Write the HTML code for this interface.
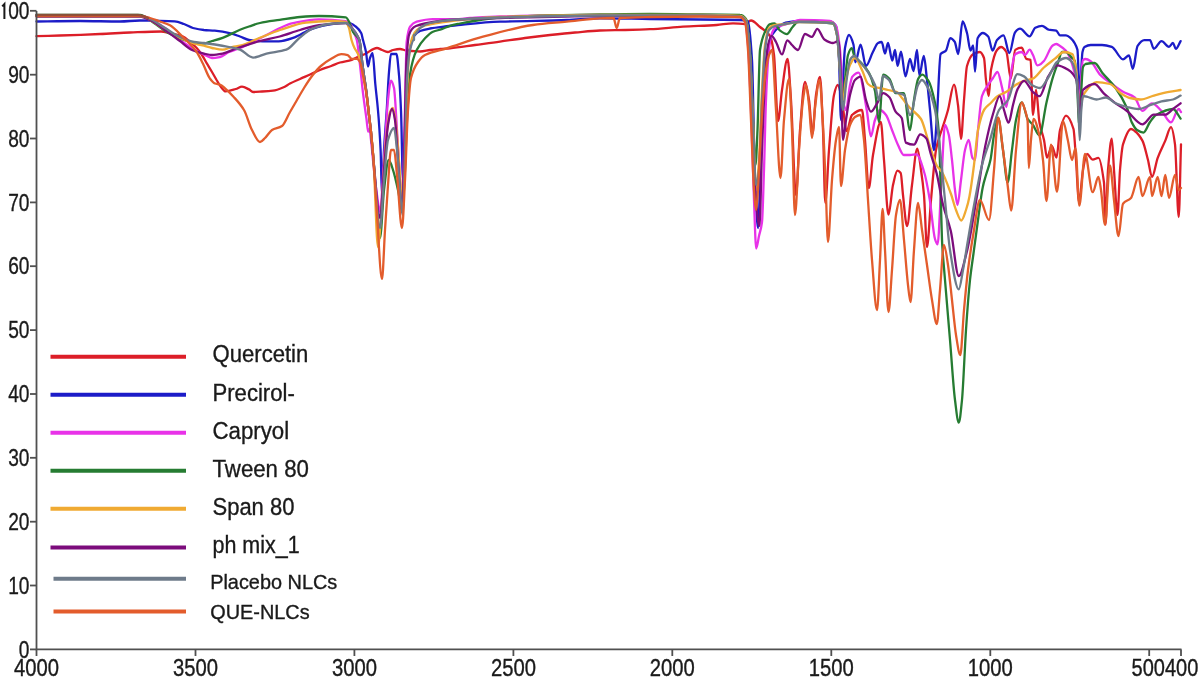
<!DOCTYPE html>
<html><head><meta charset="utf-8"><style>
html,body{margin:0;padding:0;background:#fff;}
svg{display:block;filter:blur(0.35px);}
text{font-family:"Liberation Sans",sans-serif;fill:#1a1a1a;}
</style></head><body>
<svg width="1200" height="680" viewBox="0 0 1200 680">
<path d="M36.5,36.2 C44.3,36.0 52.2,35.8 60.0,35.5 C73.3,35.1 86.7,34.6 100.0,34.0 C110.0,33.6 120.0,32.9 130.0,32.5 C140.3,32.1 150.7,31.5 161.0,31.5 C164.0,31.5 167.0,32.4 170.0,33.0 C174.3,33.9 178.7,34.8 183.0,36.5 C185.3,37.4 187.7,40.1 190.0,42.0 C192.2,43.8 194.3,45.5 196.5,47.8 C198.3,49.7 200.2,52.3 202.0,55.0 C203.7,57.5 205.3,60.9 207.0,63.7 C208.7,66.5 210.3,69.2 212.0,72.0 C213.4,74.4 214.9,77.1 216.3,79.5 C217.9,82.1 219.4,85.1 221.0,87.0 C222.5,88.8 224.1,91.4 225.6,91.4 C229.0,91.4 232.4,90.0 235.8,89.0 C237.9,88.4 239.9,86.7 242.0,86.7 C244.3,86.7 246.7,88.3 249.0,89.4 C250.3,90.0 251.7,92.0 253.0,92.0 C256.0,92.0 259.0,91.7 262.0,91.5 C265.7,91.3 269.3,91.1 273.0,90.7 C276.3,90.3 279.7,88.9 283.0,87.5 C285.3,86.6 287.7,84.8 290.0,83.6 C293.3,81.9 296.7,80.5 300.0,79.0 C303.5,77.4 307.1,75.9 310.6,74.3 C313.7,72.9 316.9,71.3 320.0,70.0 C323.7,68.5 327.5,67.4 331.2,66.0 C334.1,64.9 337.1,63.3 340.0,62.5 C343.9,61.4 347.9,61.1 351.8,59.9 C353.5,59.4 355.3,58.1 357.0,57.3 C359.7,56.1 362.3,55.2 365.0,54.0 C369.0,52.2 373.0,48.0 377.0,48.0 C378.7,48.0 380.3,49.4 382.0,50.0 C383.9,50.7 385.7,52.0 387.6,52.0 C389.4,52.0 391.2,50.4 393.0,50.0 C395.3,49.5 397.7,49.0 400.0,49.0 C402.0,49.0 404.0,50.2 406.0,50.5 C408.0,50.8 410.0,50.9 412.0,51.0 C414.7,51.2 417.3,51.5 420.0,51.5 C423.3,51.5 426.7,50.4 430.0,50.0 C433.3,49.6 436.7,49.3 440.0,49.0 C443.3,48.7 446.7,48.6 450.0,48.3 C458.3,47.5 466.7,46.1 475.0,45.0 C483.3,43.9 491.7,42.9 500.0,41.7 C508.3,40.5 516.7,39.1 525.0,38.0 C533.3,36.9 541.7,35.9 550.0,35.0 C558.3,34.1 566.7,33.2 575.0,32.5 C583.3,31.8 591.7,30.8 600.0,30.5 C608.3,30.2 616.7,30.2 625.0,30.0 C633.3,29.8 641.7,29.6 650.0,29.2 C661.0,28.7 672.0,27.4 683.0,26.7 C694.2,26.0 705.5,25.8 716.7,25.0 C722.1,24.6 727.6,23.3 733.0,23.3 C737.0,23.3 741.0,24.0 745.0,24.0 C747.0,24.0 749.0,20.5 751.0,20.5 C754.0,20.5 757.0,24.6 760.0,27.0 C763.3,29.7 766.7,31.0 770.0,36.0 C771.3,38.0 772.7,45.2 774.0,55.0 C775.3,64.8 776.7,121.0 778.0,121.0 C779.3,121.0 780.7,98.7 782.0,90.0 C783.8,78.0 785.7,59.0 787.5,59.0 C788.7,59.0 789.8,83.1 791.0,100.0 C792.7,124.2 794.3,195.0 796.0,195.0 C797.3,195.0 798.7,146.1 800.0,130.0 C801.7,109.9 803.3,82.0 805.0,82.0 C806.3,82.0 807.7,91.8 809.0,100.0 C810.2,107.2 811.3,134.0 812.5,134.0 C813.7,134.0 814.8,102.5 816.0,95.0 C817.3,86.5 818.7,77.0 820.0,77.0 C821.0,77.0 822.0,107.3 823.0,130.0 C823.8,147.4 824.5,203.0 825.3,203.0 C826.5,203.0 827.8,165.3 829.0,150.0 C830.7,129.3 832.3,102.2 834.0,95.0 C835.2,89.6 836.5,85.0 837.7,85.0 C839.1,85.0 840.6,93.4 842.0,100.0 C843.5,107.0 845.1,131.0 846.6,131.0 C848.4,131.0 850.2,116.5 852.0,115.0 C855.3,112.1 858.7,110.0 862.0,110.0 C863.0,110.0 864.0,128.8 865.0,140.0 C866.3,154.1 867.5,188.0 868.8,188.0 C870.2,188.0 871.6,162.7 873.0,155.0 C875.6,140.7 878.2,122.0 880.8,122.0 C881.9,122.0 882.9,147.2 884.0,160.0 C885.5,178.0 887.0,214.7 888.5,214.7 C890.0,214.7 891.5,191.6 893.0,185.0 C894.5,178.6 895.9,170.6 897.4,170.6 C898.5,170.6 899.6,171.5 900.7,173.0 C901.5,174.0 902.2,188.4 903.0,195.0 C904.3,206.4 905.7,226.0 907.0,226.0 C908.7,226.0 910.3,197.5 912.0,185.0 C913.8,171.8 915.5,148.6 917.3,148.6 C918.5,148.6 919.8,161.6 921.0,170.0 C922.0,176.8 923.0,183.7 924.0,195.0 C925.0,206.3 926.0,247.0 927.0,247.0 C928.3,247.0 929.7,214.4 931.0,200.0 C932.7,182.0 934.3,159.1 936.0,150.0 C937.3,142.7 938.7,139.4 940.0,135.0 C941.2,131.2 942.3,128.3 943.5,124.7 C945.0,120.1 946.5,115.5 948.0,110.0 C950.0,102.6 952.0,84.7 954.0,84.7 C955.3,84.7 956.7,95.7 958.0,105.0 C959.0,112.0 960.0,138.8 961.0,138.8 C962.0,138.8 963.0,112.1 964.0,100.0 C965.0,87.9 966.0,69.3 967.0,66.0 C969.0,59.3 971.0,55.4 973.0,54.3 C975.3,53.0 977.6,52.0 979.9,52.0 C981.3,52.0 982.6,54.5 984.0,58.0 C984.7,59.7 985.3,74.9 986.0,80.0 C986.9,86.9 987.8,96.0 988.7,96.0 C989.5,96.0 990.2,73.9 991.0,70.0 C993.0,59.7 995.0,52.4 997.0,50.0 C998.3,48.4 999.7,47.0 1001.0,47.0 C1002.8,47.0 1004.6,49.1 1006.4,52.0 C1007.9,54.4 1009.3,78.6 1010.8,78.6 C1012.3,78.6 1013.7,50.8 1015.2,49.9 C1017.4,48.5 1019.6,47.7 1021.8,47.7 C1023.3,47.7 1024.7,57.9 1026.2,58.7 C1027.7,59.5 1029.1,59.1 1030.6,60.0 C1031.4,60.5 1032.2,115.0 1033.0,115.0 C1034.0,115.0 1035.0,90.0 1036.0,90.0 C1037.2,90.0 1038.3,116.3 1039.5,122.7 C1041.0,130.9 1042.5,133.0 1044.0,140.0 C1045.0,144.6 1046.0,157.6 1047.0,157.6 C1048.6,157.6 1050.2,146.0 1051.8,146.0 C1053.4,146.0 1054.9,157.6 1056.5,157.6 C1057.7,157.6 1058.8,134.3 1060.0,130.0 C1062.0,122.7 1064.0,115.7 1066.0,115.7 C1068.5,115.7 1071.0,121.2 1073.5,129.0 C1074.3,131.6 1075.2,149.1 1076.0,160.0 C1077.0,173.1 1078.0,201.8 1079.0,201.8 C1080.3,201.8 1081.7,177.1 1083.0,170.0 C1084.3,162.9 1085.7,154.0 1087.0,154.0 C1088.9,154.0 1090.8,159.7 1092.7,159.7 C1094.6,159.7 1096.5,157.8 1098.4,157.8 C1100.3,157.8 1102.1,168.4 1104.0,182.7 C1104.5,186.5 1105.0,224.7 1105.5,224.7 C1106.3,224.7 1107.2,180.0 1108.0,170.0 C1109.3,154.8 1110.5,138.7 1111.8,138.7 C1112.5,138.7 1113.3,160.1 1114.0,170.0 C1115.2,185.8 1116.3,215.0 1117.5,215.0 C1118.3,215.0 1119.2,179.6 1120.0,170.0 C1121.0,158.4 1122.0,147.5 1123.0,144.4 C1125.7,136.0 1128.3,129.0 1131.0,129.0 C1132.2,129.0 1133.5,130.1 1134.7,131.0 C1137.3,132.9 1139.8,135.9 1142.4,140.6 C1144.3,144.0 1146.1,152.9 1148.0,160.0 C1149.3,165.1 1150.7,177.0 1152.0,177.0 C1153.9,177.0 1155.8,162.9 1157.7,157.8 C1160.2,150.9 1162.8,146.4 1165.3,140.6 C1167.2,136.2 1169.1,127.2 1171.0,127.2 C1172.3,127.2 1173.7,135.0 1175.0,144.4 C1176.2,153.1 1177.5,217.0 1178.7,217.0 C1179.5,217.0 1180.2,168.6 1181.0,144.4" fill="none" stroke="#dc1e28" stroke-width="2.3" stroke-linejoin="round" stroke-linecap="round"/>
<path d="M36.5,21.5 C51.0,21.3 65.5,21.0 80.0,21.0 C93.3,21.0 106.7,21.5 120.0,21.5 C126.7,21.5 133.3,20.5 140.0,20.5 C146.7,20.5 153.3,20.7 160.0,20.8 C164.9,20.9 169.8,21.0 174.7,21.3 C177.8,21.5 180.9,22.9 184.0,24.0 C187.0,25.1 190.0,27.2 193.0,28.0 C196.7,28.9 200.3,29.6 204.0,30.0 C207.6,30.3 211.1,30.4 214.7,30.7 C220.0,31.2 225.4,32.1 230.7,33.3 C233.8,34.0 236.9,35.4 240.0,36.5 C243.0,37.6 246.0,39.5 249.0,40.0 C253.6,40.7 258.1,41.3 262.7,41.3 C268.0,41.3 273.4,41.3 278.7,41.3 C284.0,41.3 289.4,39.1 294.7,37.3 C300.0,35.5 305.4,31.1 310.7,29.3 C317.8,26.9 324.9,24.9 332.0,24.0 C337.3,23.3 342.7,22.7 348.0,22.7 C350.7,22.7 353.3,24.8 356.0,26.7 C357.8,28.0 359.5,30.0 361.3,33.3 C361.9,34.4 362.4,37.8 363.0,40.0 C364.0,44.0 365.0,46.8 366.0,52.0 C366.7,55.4 367.3,66.5 368.0,66.5 C368.7,66.5 369.3,59.7 370.0,58.0 C370.9,55.8 371.7,53.2 372.6,53.2 C373.5,53.2 374.4,74.5 375.3,84.0 C376.2,93.5 377.1,99.8 378.0,110.5 C378.9,120.8 379.7,132.1 380.6,150.0 C381.1,159.6 381.5,195.0 382.0,195.0 C382.7,195.0 383.3,161.8 384.0,150.0 C384.9,134.0 385.8,124.6 386.7,110.5 C387.5,98.5 388.2,81.0 389.0,72.0 C389.7,64.2 390.3,54.0 391.0,54.0 C392.8,54.0 394.6,54.0 396.4,54.0 C397.3,54.0 398.1,65.4 399.0,75.0 C399.7,82.4 400.3,94.8 401.0,110.5 C401.7,126.2 402.3,180.0 403.0,180.0 C403.7,180.0 404.3,148.2 405.0,130.0 C405.7,111.8 406.3,77.9 407.0,70.0 C408.0,58.2 409.0,52.3 410.0,48.0 C411.3,42.3 412.7,37.7 414.0,36.0 C416.0,33.4 418.0,31.8 420.0,31.0 C423.3,29.7 426.7,29.1 430.0,28.5 C435.0,27.6 440.0,27.1 445.0,26.5 C449.3,26.0 453.7,25.4 458.0,25.0 C472.0,23.7 486.0,22.2 500.0,21.7 C522.3,20.8 544.7,20.8 567.0,20.0 C578.0,19.6 589.0,18.3 600.0,18.3 C616.7,18.3 633.3,18.8 650.0,19.0 C666.7,19.2 683.3,19.3 700.0,19.5 C713.3,19.6 726.7,19.7 740.0,20.0 C742.7,20.1 745.3,20.3 748.0,21.0 C749.3,21.3 750.7,39.1 752.0,60.0 C753.0,75.7 754.0,157.1 755.0,180.0 C756.0,202.9 757.0,228.0 758.0,228.0 C759.3,228.0 760.7,145.7 762.0,120.0 C763.3,94.3 764.7,68.7 766.0,60.0 C768.0,47.0 770.0,38.5 772.0,35.0 C774.7,30.3 777.3,28.1 780.0,26.0 C781.9,24.5 783.7,23.0 785.6,22.6 C790.4,21.7 795.2,21.0 800.0,21.0 C810.0,21.0 820.0,21.2 830.0,21.5 C832.0,21.6 834.0,23.2 836.0,26.0 C837.0,27.4 838.0,43.5 839.0,60.0 C839.7,71.0 840.3,120.0 841.0,120.0 C841.7,120.0 842.3,91.9 843.0,80.0 C843.7,68.1 844.3,51.6 845.0,48.0 C846.3,40.8 847.7,35.0 849.0,35.0 C850.5,35.0 852.0,39.4 853.5,44.7 C854.1,46.8 854.7,62.3 855.3,62.3 C857.1,62.3 858.8,44.7 860.6,44.7 C862.4,44.7 864.1,65.9 865.9,65.9 C868.3,65.9 870.6,56.1 873.0,51.7 C874.7,48.6 876.3,43.8 878.0,43.0 C879.2,42.4 880.5,42.0 881.7,42.0 C882.8,42.0 883.9,53.5 885.0,53.5 C886.0,53.5 887.0,43.0 888.0,43.0 C889.4,43.0 890.9,60.6 892.3,60.6 C893.2,60.6 894.1,50.0 895.0,50.0 C895.9,50.0 896.7,65.9 897.6,65.9 C898.7,65.9 899.9,51.7 901.0,51.7 C902.5,51.7 904.0,76.4 905.5,76.4 C907.0,76.4 908.5,58.8 910.0,58.8 C911.2,58.8 912.3,71.0 913.5,71.0 C914.7,71.0 915.8,50.0 917.0,50.0 C917.8,50.0 918.6,75.3 919.4,75.3 C920.9,75.3 922.3,55.9 923.8,55.9 C924.9,55.9 925.9,70.8 927.0,80.0 C928.0,88.6 929.0,100.0 930.0,110.0 C931.3,123.3 932.7,150.0 934.0,150.0 C935.0,150.0 936.0,128.8 937.0,115.0 C938.2,98.4 939.4,55.5 940.6,54.0 C942.4,51.8 944.1,52.4 945.9,50.6 C947.4,49.1 948.8,38.2 950.3,38.2 C951.8,38.2 953.2,39.8 954.7,41.7 C955.9,43.2 957.0,54.0 958.2,54.0 C959.7,54.0 961.1,21.5 962.6,21.5 C964.1,21.5 965.5,28.0 967.0,33.0 C968.2,37.0 969.3,50.6 970.5,50.6 C971.4,50.6 972.3,45.3 973.2,45.3 C973.8,45.3 974.4,71.7 975.0,71.7 C975.9,71.7 976.7,39.8 977.6,38.2 C979.4,35.0 981.1,33.0 982.9,33.0 C984.7,33.0 986.4,34.6 988.2,36.5 C989.7,38.1 991.1,50.6 992.6,50.6 C994.1,50.6 995.5,41.6 997.0,40.0 C999.2,37.6 1001.3,35.3 1003.5,35.3 C1005.5,35.3 1007.4,53.0 1009.4,53.0 C1011.3,53.0 1013.1,34.7 1015.0,32.4 C1016.7,30.3 1018.3,28.7 1020.0,28.7 C1023.2,28.7 1026.4,36.3 1029.6,36.3 C1031.5,36.3 1033.4,28.6 1035.3,27.7 C1037.5,26.6 1039.8,25.8 1042.0,25.8 C1044.2,25.8 1046.5,29.1 1048.7,29.6 C1051.2,30.1 1053.8,30.0 1056.3,30.6 C1057.5,30.9 1058.8,35.4 1060.0,35.4 C1062.0,35.4 1064.0,35.4 1066.0,35.4 C1067.6,35.4 1069.1,36.8 1070.7,38.2 C1072.9,40.2 1075.2,42.6 1077.4,49.7 C1077.8,51.0 1078.2,63.8 1078.6,75.0 C1078.9,84.4 1079.3,117.0 1079.6,117.0 C1080.0,117.0 1080.4,88.6 1080.8,80.0 C1081.4,67.8 1081.9,54.5 1082.5,52.0 C1083.2,49.1 1083.8,47.4 1084.5,47.0 C1086.6,45.8 1088.6,45.0 1090.7,45.0 C1094.5,45.0 1098.2,45.0 1102.0,45.0 C1105.3,45.0 1108.5,45.8 1111.8,46.8 C1115.5,48.0 1119.3,59.3 1123.0,59.3 C1125.0,59.3 1127.0,55.4 1129.0,55.4 C1130.3,55.4 1131.5,68.8 1132.8,68.8 C1134.4,68.8 1136.0,48.2 1137.6,45.9 C1139.8,42.7 1142.1,40.2 1144.3,40.2 C1146.2,40.2 1148.1,40.2 1150.0,40.2 C1151.3,40.2 1152.5,48.8 1153.8,48.8 C1156.4,48.8 1158.9,41.1 1161.5,41.1 C1164.0,41.1 1166.5,46.8 1169.0,46.8 C1170.3,46.8 1171.7,43.0 1173.0,43.0 C1173.9,43.0 1174.9,48.8 1175.8,48.8 C1177.4,48.8 1179.0,43.7 1180.6,41.1" fill="none" stroke="#1c1cc8" stroke-width="2.3" stroke-linejoin="round" stroke-linecap="round"/>
<path d="M36.5,15.5 C57.7,15.5 78.8,15.5 100.0,15.5 C113.3,15.5 126.7,15.5 140.0,15.5 C143.3,15.5 146.7,17.5 150.0,19.0 C155.0,21.2 160.0,24.6 165.0,28.0 C170.0,31.4 175.0,36.4 180.0,40.0 C185.0,43.6 190.0,47.1 195.0,50.0 C198.3,51.9 201.7,53.5 205.0,55.0 C207.3,56.1 209.7,58.0 212.0,58.0 C214.7,58.0 217.3,57.5 220.0,57.0 C223.0,56.4 226.0,53.3 229.0,52.0 C232.7,50.4 236.3,49.5 240.0,48.0 C243.0,46.8 246.0,45.2 249.0,43.7 C254.8,40.9 260.7,38.0 266.5,35.0 C271.0,32.7 275.5,29.9 280.0,28.0 C284.3,26.1 288.7,24.1 293.0,23.2 C301.7,21.4 310.3,19.3 319.0,19.3 C327.9,19.3 336.9,20.0 345.8,21.2 C347.5,21.4 349.3,23.0 351.0,25.0 C351.3,25.4 351.7,27.1 352.0,28.0 C352.8,30.2 353.7,31.9 354.5,34.0 C355.3,35.9 356.0,37.0 356.8,40.0 C357.9,44.2 358.9,55.9 360.0,65.0 C361.0,73.5 362.0,84.7 363.0,93.0 C364.2,102.7 365.3,110.3 366.5,119.0 C367.1,123.2 367.6,131.7 368.2,131.7 C368.6,131.7 369.1,129.0 369.5,129.0 C370.0,129.0 370.5,135.8 371.0,140.0 C372.0,148.5 373.0,160.9 374.0,170.0 C375.0,179.1 376.0,188.3 377.0,195.0 C378.0,201.7 379.0,212.0 380.0,212.0 C381.3,212.0 382.7,178.6 384.0,160.0 C385.3,141.4 386.7,112.0 388.0,100.0 C389.0,91.0 390.0,80.6 391.0,80.6 C392.0,80.6 393.0,83.8 394.0,88.0 C395.0,92.2 396.0,114.8 397.0,130.0 C398.0,145.2 399.0,165.7 400.0,180.0 C400.7,189.5 401.3,205.0 402.0,205.0 C402.8,205.0 403.7,158.6 404.5,130.0 C405.2,104.8 406.0,47.7 406.7,41.7 C407.8,32.7 408.9,28.1 410.0,26.7 C412.2,23.8 414.5,22.3 416.7,21.7 C422.1,20.3 427.6,19.2 433.0,19.2 C440.3,19.2 447.7,19.2 455.0,19.2 C460.0,19.2 465.0,18.3 470.0,18.0 C480.0,17.4 490.0,16.7 500.0,16.5 C533.3,15.7 566.7,15.0 600.0,15.0 C633.3,15.0 666.7,15.0 700.0,15.0 C713.3,15.0 726.7,15.4 740.0,16.0 C741.7,16.1 743.3,17.6 745.0,20.0 C746.0,21.5 747.0,33.0 748.0,45.0 C749.0,57.0 750.0,84.8 751.0,110.0 C752.0,135.2 753.0,174.6 754.0,200.0 C754.7,218.6 755.5,248.5 756.2,248.5 C757.1,248.5 758.1,240.3 759.0,236.0 C760.0,231.4 761.0,229.9 762.0,222.0 C762.7,216.7 763.3,189.9 764.0,170.0 C764.7,150.1 765.3,115.8 766.0,100.0 C766.8,80.2 767.7,63.9 768.5,55.0 C769.3,46.1 770.2,38.6 771.0,36.0 C772.3,31.8 773.7,28.9 775.0,28.0 C776.7,26.9 778.3,26.6 780.0,26.0 C783.3,24.9 786.7,24.0 790.0,23.0 C793.3,22.0 796.7,20.0 800.0,20.0 C810.0,20.0 820.0,20.4 830.0,21.0 C832.0,21.1 834.0,23.1 836.0,26.0 C837.3,28.0 838.7,38.2 840.0,50.0 C841.0,58.8 842.0,94.4 843.0,100.0 C844.0,105.6 845.0,110.0 846.0,110.0 C847.3,110.0 848.7,91.1 850.0,85.0 C850.8,81.5 851.5,77.6 852.3,76.7 C854.4,74.4 856.4,72.6 858.5,72.6 C861.2,72.6 864.0,95.3 866.7,109.7 C868.1,117.1 869.5,136.4 870.9,136.4 C872.3,136.4 873.6,123.6 875.0,120.0 C876.7,115.6 878.3,110.0 880.0,110.0 C882.0,110.0 884.0,112.5 886.0,115.0 C888.0,117.5 890.0,125.0 892.0,130.0 C894.0,135.0 896.0,140.9 898.0,145.0 C899.9,148.9 901.9,155.0 903.8,155.0 C905.9,155.0 907.9,155.0 910.0,155.0 C912.2,155.0 914.3,154.4 916.5,154.4 C919.1,154.4 921.8,164.6 924.4,173.0 C926.2,178.6 927.9,188.8 929.7,199.4 C931.5,210.0 933.2,233.3 935.0,239.0 C935.9,241.8 936.7,244.3 937.6,244.3 C938.7,244.3 939.9,208.3 941.0,190.0 C942.3,168.5 943.7,125.0 945.0,125.0 C946.3,125.0 947.5,130.0 948.8,135.0 C949.9,139.2 950.9,150.6 952.0,160.0 C953.0,168.8 954.0,182.5 955.0,190.0 C955.8,196.2 956.7,205.0 957.5,205.0 C958.7,205.0 959.8,188.5 961.0,180.0 C962.3,170.2 963.7,155.3 965.0,150.0 C966.2,145.1 967.5,140.0 968.7,140.0 C970.0,140.0 971.2,156.3 972.5,158.0 C973.3,159.1 974.2,160.0 975.0,160.0 C976.0,160.0 977.0,139.2 978.0,130.0 C979.3,117.7 980.7,100.0 982.0,96.0 C984.0,90.0 986.0,88.2 988.0,85.0 C989.7,82.4 991.3,80.3 993.0,78.0 C994.5,76.0 996.0,72.0 997.5,72.0 C999.0,72.0 1000.5,81.6 1002.0,87.4 C1003.5,93.1 1004.9,107.0 1006.4,107.0 C1007.6,107.0 1008.8,87.1 1010.0,80.0 C1011.7,69.7 1013.5,55.4 1015.2,54.3 C1017.4,52.9 1019.6,52.0 1021.8,52.0 C1022.9,52.0 1023.9,55.0 1025.0,55.0 C1026.5,55.0 1028.1,49.7 1029.6,49.7 C1030.7,49.7 1031.9,52.9 1033.0,55.0 C1034.4,57.7 1035.9,65.3 1037.3,65.3 C1037.9,65.3 1038.4,65.2 1039.0,65.0 C1040.6,64.5 1042.3,62.8 1043.9,61.0 C1046.8,57.7 1049.8,47.5 1052.7,45.5 C1053.9,44.7 1055.1,44.0 1056.3,44.0 C1057.3,44.0 1058.3,44.9 1059.3,45.5 C1061.5,46.9 1063.8,48.3 1066.0,50.7 C1067.3,52.2 1068.7,54.8 1070.0,58.0 C1071.8,62.3 1073.7,69.1 1075.5,76.5 C1076.3,79.6 1077.0,82.3 1077.8,88.0 C1078.3,92.0 1078.9,112.0 1079.4,112.0 C1079.9,112.0 1080.5,87.1 1081.0,80.0 C1081.7,71.1 1082.3,60.5 1083.0,60.0 C1083.8,59.4 1084.7,59.0 1085.5,59.0 C1087.2,59.0 1089.0,60.1 1090.7,61.2 C1093.8,63.2 1096.9,71.4 1100.0,74.6 C1103.9,78.6 1107.9,81.1 1111.8,84.0 C1115.5,86.8 1119.3,89.7 1123.0,91.8 C1126.9,94.0 1130.8,94.5 1134.7,97.5 C1137.3,99.5 1139.8,110.9 1142.4,110.9 C1145.6,110.9 1148.8,103.3 1152.0,103.3 C1155.2,103.3 1158.3,107.8 1161.5,110.9 C1164.7,114.0 1167.8,122.4 1171.0,122.4 C1173.6,122.4 1176.1,109.0 1178.7,109.0 C1179.5,109.0 1180.2,111.0 1181.0,112.0" fill="none" stroke="#e832e8" stroke-width="2.3" stroke-linejoin="round" stroke-linecap="round"/>
<path d="M36.5,14.8 C57.7,14.8 78.8,14.8 100.0,14.8 C113.3,14.8 126.7,14.9 140.0,15.0 C144.2,15.0 148.3,19.4 152.5,22.0 C158.2,25.5 164.0,30.8 169.7,33.8 C175.0,36.5 180.2,38.7 185.5,40.4 C188.7,41.4 191.8,42.6 195.0,43.0 C197.6,43.4 200.1,43.7 202.7,43.7 C205.8,43.7 208.9,41.9 212.0,41.0 C215.5,40.0 219.1,39.1 222.6,37.8 C228.4,35.7 234.2,32.2 240.0,29.8 C243.0,28.6 246.0,27.5 249.0,26.5 C252.7,25.3 256.3,23.8 260.0,23.0 C266.6,21.6 273.1,20.9 279.7,19.9 C286.5,18.9 293.2,17.5 300.0,17.0 C306.3,16.5 312.7,16.0 319.0,16.0 C327.9,16.0 336.9,16.5 345.8,17.3 C347.1,17.4 348.5,20.6 349.8,23.2 C350.9,25.2 351.9,30.2 353.0,32.0 C355.1,35.7 357.3,35.4 359.4,40.0 C360.4,42.2 361.5,57.3 362.5,65.0 C363.8,75.0 365.2,82.6 366.5,93.0 C367.3,99.5 368.2,107.8 369.0,115.0 C369.7,120.8 370.3,125.6 371.0,132.0 C371.8,140.1 372.7,150.3 373.5,160.0 C375.7,185.1 377.8,238.0 380.0,238.0 C381.3,238.0 382.7,201.1 384.0,190.0 C385.6,176.9 387.1,160.0 388.7,160.0 C390.1,160.0 391.6,165.7 393.0,170.0 C394.9,175.5 396.7,184.2 398.6,193.0 C399.7,198.4 400.9,212.0 402.0,212.0 C402.8,212.0 403.7,193.9 404.5,180.0 C405.3,166.1 406.2,135.4 407.0,120.0 C408.0,101.5 409.0,82.5 410.0,75.0 C411.0,67.5 412.0,63.5 413.0,60.0 C414.2,55.7 415.5,52.3 416.7,50.0 C419.5,44.9 422.2,41.2 425.0,38.3 C427.7,35.5 430.3,32.8 433.0,31.7 C435.9,30.5 438.8,30.2 441.7,29.2 C444.5,28.3 447.2,26.6 450.0,25.8 C453.3,24.8 456.7,24.2 460.0,23.5 C466.7,22.2 473.3,21.0 480.0,20.0 C486.7,19.0 493.3,17.9 500.0,17.5 C516.7,16.5 533.3,15.9 550.0,15.5 C566.7,15.1 583.3,14.7 600.0,14.5 C616.7,14.3 633.3,14.0 650.0,14.0 C666.7,14.0 683.3,14.3 700.0,14.5 C713.3,14.6 726.7,14.7 740.0,15.0 C742.0,15.0 744.0,16.5 746.0,19.0 C747.3,20.6 748.7,34.5 750.0,50.0 C751.0,61.6 752.0,99.7 753.0,120.0 C753.8,136.9 754.7,165.0 755.5,165.0 C756.2,165.0 756.8,145.1 757.5,130.0 C758.3,111.1 759.2,55.6 760.0,50.0 C761.6,39.5 763.1,36.0 764.7,32.4 C766.3,28.7 768.0,24.8 769.6,24.3 C771.2,23.8 772.8,23.5 774.4,23.5 C776.3,23.5 778.1,29.3 780.0,30.6 C782.3,32.3 784.7,34.1 787.0,34.1 C788.9,34.1 790.7,29.0 792.6,27.0 C794.4,25.0 796.2,21.8 798.0,21.8 C803.7,21.8 809.3,21.9 815.0,22.0 C821.0,22.1 827.0,22.5 833.0,23.5 C834.3,23.7 835.7,28.8 837.0,35.0 C838.0,39.6 839.0,55.3 840.0,70.0 C840.7,79.8 841.3,110.0 842.0,110.0 C843.0,110.0 844.0,89.1 845.0,80.0 C846.0,70.9 847.0,58.0 848.0,55.0 C849.2,51.3 850.5,48.2 851.7,48.2 C852.6,48.2 853.5,54.9 854.4,56.2 C856.5,59.3 858.5,60.0 860.6,62.3 C863.3,65.3 866.1,67.8 868.8,72.6 C870.9,76.2 872.9,82.1 875.0,91.0 C876.3,96.7 877.7,122.0 879.0,122.0 C880.4,122.0 881.8,74.7 883.2,74.7 C885.3,74.7 887.3,76.7 889.4,78.8 C891.5,80.9 893.5,93.2 895.6,93.2 C898.3,93.2 901.1,93.2 903.8,93.2 C905.9,93.2 907.9,130.2 910.0,130.2 C911.3,130.2 912.7,108.1 914.0,100.0 C915.4,91.5 916.8,81.1 918.2,78.8 C919.6,76.5 920.9,74.7 922.3,74.7 C924.4,74.7 926.4,77.7 928.5,80.9 C930.6,84.1 932.6,91.9 934.7,101.4 C936.1,107.7 937.4,115.4 938.8,132.0 C940.0,146.2 941.1,224.4 942.3,246.0 C942.9,256.5 943.4,260.9 944.0,268.0 C946.0,292.9 948.0,316.0 950.0,340.0 C951.7,360.0 953.3,386.7 955.0,400.0 C956.3,410.1 957.5,422.6 958.8,422.6 C959.9,422.6 960.9,410.7 962.0,400.0 C963.3,386.6 964.7,349.4 966.0,330.0 C967.3,310.6 968.7,292.6 970.0,280.0 C971.2,269.0 972.3,262.3 973.5,253.5 C975.0,242.2 976.5,230.8 978.0,220.0 C979.6,208.7 981.1,195.0 982.7,187.4 C983.8,182.0 984.9,178.9 986.0,175.0 C987.5,169.6 989.0,166.6 990.5,159.7 C991.7,154.3 992.8,141.3 994.0,135.0 C995.3,127.8 996.7,117.6 998.0,117.6 C999.7,117.6 1001.3,138.8 1003.0,150.0 C1004.5,160.4 1006.1,182.4 1007.6,182.4 C1009.1,182.4 1010.5,160.9 1012.0,150.0 C1013.3,140.1 1014.7,125.8 1016.0,120.0 C1017.9,111.6 1019.9,102.4 1021.8,102.4 C1023.7,102.4 1025.7,115.6 1027.6,118.8 C1029.4,121.7 1031.2,122.6 1033.0,125.0 C1035.1,127.9 1037.3,135.3 1039.4,135.3 C1041.8,135.3 1044.1,112.6 1046.5,102.4 C1048.5,94.0 1050.4,85.4 1052.4,78.8 C1054.3,72.3 1056.3,67.3 1058.2,62.0 C1059.5,58.5 1060.7,52.0 1062.0,52.0 C1063.3,52.0 1064.7,52.0 1066.0,52.0 C1067.9,52.0 1069.7,55.5 1071.6,57.4 C1072.7,58.5 1073.7,58.8 1074.8,61.0 C1075.5,62.5 1076.3,75.2 1077.0,85.0 C1077.8,95.3 1078.5,125.0 1079.3,125.0 C1079.9,125.0 1080.4,103.8 1081.0,95.0 C1081.7,84.6 1082.3,68.5 1083.0,67.0 C1083.8,65.2 1084.7,64.2 1085.5,64.0 C1088.5,63.4 1091.6,63.0 1094.6,63.0 C1097.1,63.0 1099.7,69.6 1102.2,72.7 C1106.7,78.1 1111.1,81.8 1115.6,88.0 C1119.4,93.3 1123.2,99.6 1127.0,108.0 C1128.6,111.5 1130.2,119.3 1131.8,122.4 C1133.5,125.8 1135.3,128.9 1137.0,130.0 C1139.2,131.4 1141.3,132.6 1143.5,132.6 C1145.7,132.6 1147.8,124.9 1150.0,122.0 C1152.0,119.3 1154.0,116.1 1156.0,115.0 C1161.7,111.9 1167.3,109.0 1173.0,109.0 C1175.5,109.0 1178.1,115.4 1180.6,118.6" fill="none" stroke="#267c32" stroke-width="2.3" stroke-linejoin="round" stroke-linecap="round"/>
<path d="M36.5,16.0 C57.7,16.0 78.8,16.0 100.0,16.0 C113.3,16.0 126.7,16.0 140.0,16.0 C143.3,16.0 146.7,18.3 150.0,20.0 C156.7,23.3 163.3,29.4 170.0,33.0 C175.0,35.7 180.0,38.0 185.0,40.0 C188.7,41.5 192.3,43.0 196.0,44.0 C198.7,44.7 201.3,45.0 204.0,45.7 C206.7,46.4 209.3,47.5 212.0,48.0 C215.5,48.7 219.1,49.7 222.6,49.7 C225.7,49.7 228.9,47.7 232.0,47.0 C234.7,46.4 237.3,46.3 240.0,45.7 C246.6,44.2 253.2,40.4 259.8,37.8 C266.5,35.2 273.3,32.2 280.0,30.0 C288.7,27.2 297.3,23.5 306.0,22.6 C314.0,21.7 322.0,21.0 330.0,21.0 C335.3,21.0 340.5,21.4 345.8,22.0 C346.9,22.1 347.9,25.1 349.0,28.0 C349.8,30.2 350.7,37.1 351.5,40.0 C352.5,43.4 353.5,45.9 354.5,48.0 C355.7,50.4 356.8,51.4 358.0,54.0 C359.0,56.3 360.0,59.8 361.0,64.0 C361.8,67.5 362.7,73.6 363.5,78.0 C364.5,83.3 365.5,86.6 366.5,93.0 C367.3,98.3 368.2,107.8 369.0,115.0 C369.7,120.8 370.3,125.6 371.0,132.0 C371.8,140.1 372.7,148.2 373.5,160.0 C375.0,181.3 376.5,247.0 378.0,247.0 C379.3,247.0 380.7,217.6 382.0,200.0 C383.3,182.4 384.7,152.7 386.0,140.0 C387.3,127.3 388.7,115.0 390.0,112.0 C391.0,109.8 392.0,108.0 393.0,108.0 C394.0,108.0 395.0,117.2 396.0,125.0 C397.3,135.4 398.7,157.4 400.0,175.0 C400.8,186.0 401.7,210.0 402.5,210.0 C403.3,210.0 404.2,181.2 405.0,160.0 C405.7,143.0 406.3,104.1 407.0,90.0 C407.8,72.3 408.7,58.3 409.5,52.0 C410.5,44.5 411.5,39.4 412.5,37.0 C414.0,33.4 415.5,31.2 417.0,30.0 C419.7,27.8 422.3,26.3 425.0,25.5 C430.0,24.0 435.0,23.2 440.0,22.5 C450.0,21.0 460.0,19.8 470.0,19.0 C480.0,18.2 490.0,17.3 500.0,17.0 C533.3,16.0 566.7,15.0 600.0,15.0 C633.3,15.0 666.7,15.0 700.0,15.0 C713.3,15.0 726.7,15.4 740.0,16.0 C742.0,16.1 744.0,17.5 746.0,20.0 C747.3,21.7 748.7,38.4 750.0,55.0 C751.0,67.5 752.0,97.5 753.0,120.0 C754.0,142.5 755.0,190.0 756.0,190.0 C757.0,190.0 758.0,174.0 759.0,160.0 C760.0,146.0 761.0,108.3 762.0,90.0 C763.0,71.7 764.0,51.6 765.0,45.0 C766.3,36.2 767.7,29.2 769.0,28.0 C771.0,26.2 773.0,25.3 775.0,25.0 C778.3,24.4 781.7,24.4 785.0,24.0 C790.0,23.4 795.0,22.0 800.0,22.0 C811.0,22.0 822.0,22.3 833.0,23.0 C834.3,23.1 835.7,28.6 837.0,35.0 C838.0,39.8 839.0,59.2 840.0,70.0 C841.0,80.8 842.0,100.0 843.0,100.0 C844.0,100.0 845.0,84.8 846.0,80.0 C847.3,73.6 848.7,67.7 850.0,65.0 C851.7,61.6 853.3,58.0 855.0,58.0 C857.3,58.0 859.7,65.4 862.0,70.0 C864.0,74.0 866.0,82.1 868.0,84.0 C869.7,85.6 871.3,86.6 873.0,87.0 C875.3,87.5 877.7,87.6 880.0,88.0 C882.7,88.5 885.3,89.4 888.0,90.0 C891.0,90.7 894.0,90.9 897.0,92.0 C898.7,92.6 900.3,96.0 902.0,98.0 C904.7,101.3 907.3,105.0 910.0,108.0 C913.7,112.1 917.3,113.5 921.0,119.0 C923.3,122.5 925.7,133.1 928.0,140.0 C931.0,148.8 934.0,160.9 937.0,166.0 C938.7,168.8 940.3,169.3 942.0,172.0 C945.0,176.8 948.0,185.7 951.0,194.0 C952.7,198.6 954.3,206.0 956.0,210.0 C957.8,214.4 959.6,220.5 961.4,220.5 C962.9,220.5 964.5,214.4 966.0,210.0 C967.1,206.7 968.3,202.4 969.4,196.7 C970.9,189.0 972.5,176.8 974.0,165.0 C975.3,154.7 976.7,136.3 978.0,130.0 C980.1,120.0 982.2,112.7 984.3,109.5 C986.5,106.1 988.8,105.1 991.0,102.8 C993.2,100.6 995.3,97.6 997.5,96.2 C1000.5,94.2 1003.4,93.6 1006.4,91.8 C1009.3,90.1 1012.3,87.0 1015.2,85.2 C1018.1,83.4 1021.1,81.8 1024.0,80.8 C1026.9,79.8 1029.9,79.8 1032.8,78.6 C1036.5,77.1 1040.2,70.8 1043.9,67.5 C1047.6,64.2 1051.3,61.6 1055.0,58.7 C1057.9,56.4 1060.9,52.0 1063.8,52.0 C1066.7,52.0 1069.7,52.8 1072.6,54.3 C1073.7,54.9 1074.9,62.8 1076.0,70.0 C1076.7,74.2 1077.3,81.3 1078.0,90.0 C1078.5,96.5 1079.0,118.0 1079.5,118.0 C1080.2,118.0 1080.8,104.9 1081.5,102.0 C1082.5,97.6 1083.5,94.4 1084.5,93.0 C1088.5,87.5 1092.5,82.2 1096.5,82.2 C1101.0,82.2 1105.5,83.0 1110.0,84.0 C1113.8,84.9 1117.6,91.3 1121.4,93.7 C1124.3,95.5 1127.1,97.4 1130.0,98.0 C1133.5,98.8 1137.0,99.5 1140.5,99.5 C1144.9,99.5 1149.4,96.8 1153.8,95.6 C1158.9,94.2 1163.9,92.8 1169.0,91.8 C1172.9,91.1 1176.7,90.6 1180.6,90.0" fill="none" stroke="#f0aa32" stroke-width="2.3" stroke-linejoin="round" stroke-linecap="round"/>
<path d="M36.5,16.5 C57.7,16.5 78.8,16.5 100.0,16.5 C113.3,16.5 126.7,16.5 140.0,16.5 C143.3,16.5 146.7,18.5 150.0,20.0 C155.0,22.3 160.0,26.5 165.0,30.0 C170.0,33.5 175.0,37.3 180.0,41.0 C184.0,44.0 188.0,48.3 192.0,50.0 C196.0,51.7 200.0,52.7 204.0,53.6 C206.7,54.2 209.3,55.0 212.0,55.0 C215.5,55.0 219.1,54.3 222.6,53.6 C226.7,52.8 230.9,50.4 235.0,49.0 C239.7,47.4 244.3,45.9 249.0,44.4 C252.7,43.2 256.3,42.0 260.0,41.0 C266.6,39.3 273.1,38.3 279.7,36.5 C286.5,34.7 293.2,31.9 300.0,30.0 C306.3,28.2 312.7,25.9 319.0,25.2 C327.9,24.2 336.9,23.2 345.8,23.2 C347.2,23.2 348.6,24.7 350.0,26.0 C353.1,28.9 356.3,32.1 359.4,40.0 C360.4,42.6 361.5,57.3 362.5,65.0 C363.8,75.0 365.2,82.6 366.5,93.0 C367.3,99.5 368.2,107.8 369.0,115.0 C369.7,120.8 370.3,125.6 371.0,132.0 C371.8,140.1 372.7,151.7 373.5,160.0 C375.7,181.5 377.8,218.0 380.0,218.0 C381.3,218.0 382.7,185.5 384.0,170.0 C385.3,154.5 386.7,132.9 388.0,125.0 C389.3,117.1 390.7,109.0 392.0,109.0 C393.0,109.0 394.0,114.2 395.0,120.0 C396.0,125.8 397.0,147.1 398.0,160.0 C399.3,177.2 400.7,210.0 402.0,210.0 C402.8,210.0 403.7,167.5 404.5,140.0 C405.2,118.0 405.8,70.7 406.5,60.0 C407.3,46.7 408.2,37.8 409.0,35.0 C410.0,31.7 411.0,30.1 412.0,29.0 C413.3,27.5 414.7,26.5 416.0,26.0 C419.0,24.8 422.0,24.1 425.0,23.5 C430.0,22.5 435.0,21.6 440.0,21.0 C443.3,20.6 446.7,20.2 450.0,20.0 C466.7,19.0 483.3,18.4 500.0,18.0 C533.3,17.1 566.7,16.0 600.0,16.0 C633.3,16.0 666.7,16.0 700.0,16.0 C713.3,16.0 726.7,16.4 740.0,17.0 C742.0,17.1 744.0,18.9 746.0,22.0 C747.3,24.0 748.7,41.3 750.0,60.0 C751.0,74.0 752.0,117.1 753.0,140.0 C754.0,162.9 755.0,188.9 756.0,200.0 C757.1,212.5 758.3,226.0 759.4,226.0 C760.3,226.0 761.1,172.5 762.0,150.0 C763.0,124.0 764.0,95.6 765.0,80.0 C766.0,64.4 767.0,49.3 768.0,45.0 C769.2,40.0 770.3,35.9 771.5,35.9 C773.0,35.9 774.5,39.5 776.0,42.0 C778.0,45.3 780.0,54.4 782.0,54.4 C783.8,54.4 785.5,40.3 787.3,40.3 C788.9,40.3 790.4,43.6 792.0,45.0 C794.0,46.8 796.0,50.0 798.0,50.0 C800.3,50.0 802.7,34.0 805.0,34.0 C807.3,34.0 809.7,36.8 812.0,36.8 C813.8,36.8 815.5,28.8 817.3,28.8 C819.7,28.8 822.0,37.9 824.4,39.4 C827.3,41.3 830.1,43.0 833.0,43.0 C834.8,43.0 836.7,41.0 838.5,41.0 C839.3,41.0 840.2,62.9 841.0,80.0 C841.7,93.7 842.3,140.0 843.0,140.0 C844.0,140.0 845.0,126.5 846.0,120.0 C847.3,111.4 848.7,100.4 850.0,95.0 C851.7,88.2 853.3,81.6 855.0,80.0 C856.9,78.2 858.7,76.7 860.6,76.7 C862.4,76.7 864.2,94.5 866.0,100.0 C867.6,105.0 869.3,111.7 870.9,111.7 C872.9,111.7 875.0,106.5 877.0,103.5 C879.1,100.4 881.1,93.2 883.2,93.2 C885.3,93.2 887.3,95.2 889.4,97.3 C891.5,99.4 893.5,108.7 895.6,111.7 C897.6,114.6 899.7,114.4 901.7,118.0 C903.1,120.4 904.4,141.9 905.8,142.6 C908.5,143.9 911.3,144.7 914.0,144.7 C916.1,144.7 918.1,134.4 920.2,134.4 C922.3,134.4 924.3,136.2 926.4,138.5 C927.8,140.0 929.1,148.3 930.5,153.0 C932.6,160.1 934.6,165.3 936.7,173.5 C938.8,181.8 940.9,196.3 943.0,204.7 C945.6,215.1 948.2,220.0 950.8,231.0 C953.5,242.2 956.1,276.0 958.8,276.0 C961.4,276.0 964.1,262.5 966.7,252.3 C970.2,238.6 973.8,214.3 977.3,194.0 C979.9,178.9 982.6,159.5 985.2,146.5 C987.8,133.7 990.4,122.4 993.0,114.0 C995.2,106.8 997.5,96.2 999.7,96.2 C1001.1,96.2 1002.6,105.7 1004.0,110.0 C1005.5,114.6 1007.1,122.7 1008.6,122.7 C1010.1,122.7 1011.5,110.5 1013.0,105.0 C1014.5,99.5 1015.9,92.4 1017.4,89.6 C1019.6,85.4 1021.8,80.8 1024.0,80.8 C1026.9,80.8 1029.9,89.3 1032.8,91.8 C1035.0,93.7 1037.3,96.2 1039.5,96.2 C1042.4,96.2 1045.4,81.1 1048.3,76.4 C1051.2,71.7 1054.2,65.3 1057.1,65.3 C1060.8,65.3 1064.5,67.5 1068.2,69.7 C1071.1,71.5 1074.1,74.1 1077.0,80.8 C1077.5,81.9 1078.0,91.5 1078.5,100.0 C1078.9,106.2 1079.2,128.0 1079.6,128.0 C1080.1,128.0 1080.5,109.8 1081.0,105.0 C1081.7,98.1 1082.3,90.5 1083.0,89.9 C1086.9,86.2 1090.7,84.0 1094.6,84.0 C1097.7,84.0 1100.9,90.8 1104.0,93.7 C1107.9,97.3 1111.7,100.4 1115.6,103.3 C1119.4,106.1 1123.2,108.1 1127.0,111.0 C1132.1,114.9 1137.3,124.3 1142.4,124.3 C1146.2,124.3 1150.0,114.7 1153.8,114.7 C1157.6,114.7 1161.5,114.7 1165.3,114.7 C1167.9,114.7 1170.4,110.9 1173.0,109.0 C1175.5,107.1 1178.1,105.2 1180.6,103.3" fill="none" stroke="#7c0c7c" stroke-width="2.3" stroke-linejoin="round" stroke-linecap="round"/>
<path d="M36.5,16.0 C57.7,16.0 78.8,16.0 100.0,16.0 C113.3,16.0 126.7,16.0 140.0,16.0 C143.3,16.0 146.7,17.7 150.0,19.0 C155.0,21.0 160.0,25.0 165.0,28.0 C170.0,31.0 175.0,34.8 180.0,37.0 C184.7,39.1 189.3,41.3 194.0,42.0 C197.3,42.5 200.7,42.6 204.0,43.0 C207.7,43.4 211.3,43.9 215.0,44.5 C219.7,45.2 224.3,46.0 229.0,47.0 C232.7,47.8 236.3,48.4 240.0,49.7 C244.3,51.2 248.7,57.6 253.0,57.6 C257.5,57.6 262.0,54.7 266.5,53.6 C273.1,52.0 279.7,51.8 286.3,49.7 C290.7,48.3 295.1,41.3 299.5,37.8 C303.9,34.3 308.4,30.2 312.8,28.5 C318.5,26.3 324.3,24.6 330.0,24.0 C335.3,23.5 340.5,23.0 345.8,23.0 C347.2,23.0 348.6,24.6 350.0,26.0 C353.1,29.0 356.3,32.1 359.4,40.0 C360.4,42.6 361.5,57.3 362.5,65.0 C363.8,75.0 365.2,82.6 366.5,93.0 C367.3,99.5 368.2,107.8 369.0,115.0 C369.7,120.8 370.3,125.6 371.0,132.0 C371.8,140.1 372.7,151.0 373.5,160.0 C375.7,183.4 377.8,228.0 380.0,228.0 C381.3,228.0 382.7,194.5 384.0,180.0 C385.3,165.5 386.7,144.4 388.0,140.0 C390.0,133.3 392.0,128.0 394.0,128.0 C395.0,128.0 396.0,140.5 397.0,150.0 C398.0,159.5 399.0,178.6 400.0,190.0 C400.8,199.5 401.7,215.0 402.5,215.0 C403.3,215.0 404.2,174.9 405.0,150.0 C405.7,130.1 406.3,90.4 407.0,80.0 C408.0,64.4 409.0,54.0 410.0,50.0 C411.3,44.7 412.7,40.0 414.0,40.0 L414.0,35.0 C416.0,35.0 418.0,29.4 420.0,28.0 C423.3,25.7 426.7,23.8 430.0,23.0 C436.7,21.5 443.3,20.5 450.0,20.0 C466.7,18.8 483.3,18.0 500.0,17.5 C533.3,16.5 566.7,15.5 600.0,15.5 C633.3,15.5 666.7,15.5 700.0,15.5 C713.3,15.5 726.7,15.9 740.0,16.5 C742.0,16.6 744.0,18.2 746.0,21.0 C747.3,22.8 748.7,38.4 750.0,55.0 C751.0,67.5 752.0,103.5 753.0,125.0 C754.0,146.5 755.0,185.0 756.0,185.0 C757.0,185.0 758.0,178.2 759.0,170.0 C760.0,161.8 761.0,119.4 762.0,100.0 C763.0,80.6 764.0,57.7 765.0,50.0 C766.3,39.7 767.7,31.6 769.0,30.0 C771.0,27.6 773.0,26.6 775.0,26.0 C778.3,25.0 781.7,24.5 785.0,24.0 C790.0,23.2 795.0,22.0 800.0,22.0 C811.0,22.0 822.0,22.3 833.0,23.0 C834.3,23.1 835.7,28.6 837.0,35.0 C838.0,39.8 839.0,57.6 840.0,70.0 C841.0,82.4 842.0,110.0 843.0,110.0 C844.0,110.0 845.0,92.1 846.0,85.0 C847.3,75.5 848.7,62.3 850.0,60.0 C851.3,57.7 852.7,56.0 854.0,56.0 C856.0,56.0 858.0,59.8 860.0,62.0 C862.7,65.0 865.3,68.0 868.0,72.0 C870.3,75.5 872.7,79.2 875.0,85.0 C876.3,88.3 877.7,100.0 879.0,100.0 C880.3,100.0 881.7,76.0 883.0,76.0 C885.0,76.0 887.0,78.0 889.0,80.0 C891.0,82.0 893.0,90.9 895.0,92.0 C898.0,93.7 901.0,93.2 904.0,95.0 C906.0,96.2 908.0,115.0 910.0,115.0 C912.7,115.0 915.3,90.0 918.0,85.0 C919.3,82.5 920.7,80.0 922.0,80.0 C924.0,80.0 926.0,84.3 928.0,88.0 C930.3,92.4 932.7,99.5 935.0,110.0 C936.7,117.5 938.3,135.2 940.0,150.0 C941.7,164.8 943.3,183.3 945.0,200.0 C946.7,216.7 948.3,239.7 950.0,250.0 C952.9,268.1 955.9,289.3 958.8,289.3 C960.2,289.3 961.6,277.3 963.0,270.0 C964.7,261.3 966.3,249.8 968.0,240.0 C970.3,226.3 972.7,212.4 975.0,200.0 C977.3,187.6 979.7,174.0 982.0,165.0 C984.7,154.7 987.3,148.6 990.0,140.0 C993.0,130.3 996.0,115.0 999.0,110.0 C1002.0,105.0 1005.0,104.7 1008.0,100.0 C1011.1,95.0 1014.3,74.2 1017.4,74.2 C1019.6,74.2 1021.8,75.3 1024.0,76.4 C1026.7,77.8 1029.3,83.5 1032.0,85.0 C1034.7,86.5 1037.3,88.0 1040.0,88.0 C1042.7,88.0 1045.3,81.9 1048.0,78.0 C1051.0,73.6 1054.0,64.1 1057.0,62.0 C1060.0,59.9 1063.0,58.0 1066.0,58.0 C1068.0,58.0 1070.0,59.8 1072.0,62.0 C1073.3,63.5 1074.7,68.3 1076.0,75.0 C1076.7,78.7 1077.5,88.3 1078.2,100.0 C1078.7,108.0 1079.2,140.0 1079.7,140.0 C1080.2,140.0 1080.8,116.1 1081.3,110.0 C1081.9,103.5 1082.4,96.0 1083.0,96.0 C1084.7,96.0 1086.3,96.6 1088.0,97.0 C1090.8,97.7 1093.7,99.5 1096.5,99.5 C1099.7,99.5 1102.8,97.5 1106.0,97.5 C1109.2,97.5 1112.4,101.9 1115.6,103.3 C1119.4,104.9 1123.2,106.1 1127.0,107.0 C1130.9,107.9 1134.7,109.0 1138.6,109.0 C1142.4,109.0 1146.2,106.5 1150.0,105.2 C1153.8,103.9 1157.7,102.1 1161.5,101.3 C1165.3,100.5 1169.2,100.4 1173.0,99.5 C1175.5,98.9 1178.1,96.9 1180.6,95.6" fill="none" stroke="#6e7b8a" stroke-width="2.3" stroke-linejoin="round" stroke-linecap="round"/>
<path d="M36.5,16.0 C57.7,16.0 78.8,16.0 100.0,16.0 C113.3,16.0 126.7,16.0 140.0,16.0 C143.3,16.0 146.7,17.2 150.0,18.0 C153.3,18.8 156.7,20.3 160.0,21.5 C163.3,22.7 166.7,23.5 170.0,25.3 C174.3,27.6 178.7,32.9 183.0,37.2 C187.5,41.6 192.0,45.6 196.5,51.7 C198.7,54.6 200.8,59.4 203.0,63.7 C205.2,68.2 207.5,75.1 209.7,78.2 C211.5,80.6 213.2,82.8 215.0,83.5 C216.8,84.2 218.5,84.1 220.3,84.8 C222.1,85.5 223.8,87.3 225.6,88.8 C228.2,91.1 230.9,93.8 233.5,96.7 C237.0,100.6 240.5,104.1 244.0,110.0 C246.7,114.5 249.3,125.0 252.0,130.0 C254.7,135.0 257.3,142.0 260.0,142.0 C261.7,142.0 263.3,139.6 265.0,138.0 C267.3,135.8 269.7,131.4 272.0,130.0 C275.3,128.0 278.7,128.2 282.0,126.0 C284.7,124.3 287.3,116.6 290.0,112.0 C292.3,108.0 294.7,104.0 297.0,100.0 C299.3,96.0 301.7,91.7 304.0,88.0 C306.9,83.3 309.9,78.7 312.8,75.0 C315.5,71.6 318.2,68.3 320.9,66.0 C324.3,63.1 327.8,60.7 331.2,58.8 C334.6,56.9 338.1,54.2 341.5,54.2 C343.6,54.2 345.6,54.6 347.7,55.2 C349.1,55.6 350.4,58.8 351.8,58.8 C353.5,58.8 355.3,58.8 357.0,58.8 C358.0,58.8 359.0,60.3 360.0,62.0 C361.0,63.7 362.0,70.1 363.0,75.0 C364.2,80.8 365.3,87.2 366.5,95.0 C367.3,100.6 368.2,108.1 369.0,115.0 C369.7,120.5 370.3,125.6 371.0,132.0 C371.8,140.1 372.7,149.1 373.5,160.0 C374.7,175.3 375.8,198.5 377.0,215.0 C378.7,238.5 380.3,279.0 382.0,279.0 C383.0,279.0 384.0,245.6 385.0,230.0 C386.0,214.4 387.0,198.1 388.0,185.0 C389.0,171.9 390.0,150.0 391.0,150.0 C392.0,150.0 393.0,150.0 394.0,150.0 C395.0,150.0 396.0,165.7 397.0,175.0 C398.7,190.6 400.3,228.0 402.0,228.0 C403.0,228.0 404.0,199.0 405.0,180.0 C406.0,161.0 407.0,124.6 408.0,110.0 C409.0,95.4 410.0,81.8 411.0,78.0 C413.3,69.2 415.7,65.2 418.0,62.0 C420.3,58.8 422.7,56.1 425.0,55.0 C432.2,51.6 439.5,50.6 446.7,48.3 C458.8,44.5 470.9,40.0 483.0,36.7 C499.7,32.2 516.3,27.3 533.0,25.0 C544.2,23.4 555.5,22.8 566.7,21.7 C577.8,20.6 588.9,18.7 600.0,18.3 C604.5,18.1 609.0,18.0 613.5,18.0 C614.6,18.0 615.6,28.0 616.7,28.0 C617.8,28.0 618.8,18.1 619.9,18.0 C629.9,17.3 640.0,17.2 650.0,17.0 C666.7,16.7 683.3,16.5 700.0,16.5 C713.3,16.5 726.7,16.7 740.0,17.0 C741.7,17.0 743.3,19.0 745.0,22.0 C746.0,23.8 747.0,36.7 748.0,50.0 C749.0,63.3 750.0,96.7 751.0,120.0 C752.0,143.3 753.0,176.0 754.0,190.0 C754.7,199.3 755.3,210.0 756.0,210.0 C756.7,210.0 757.3,198.9 758.0,190.0 C758.7,181.1 759.3,162.1 760.0,150.0 C761.0,131.8 762.0,112.5 763.0,100.0 C764.0,87.5 765.0,76.7 766.0,70.0 C767.0,63.3 768.0,57.5 769.0,55.0 C770.0,52.5 771.0,50.0 772.0,50.0 C773.3,50.0 774.7,89.9 776.0,110.0 C777.5,132.6 779.0,178.0 780.5,178.0 C781.7,178.0 782.8,132.8 784.0,120.0 C785.7,101.7 787.3,79.0 789.0,79.0 C790.0,79.0 791.0,108.8 792.0,130.0 C793.0,151.2 794.0,215.0 795.0,215.0 C796.3,215.0 797.7,168.8 799.0,150.0 C800.3,131.2 801.7,109.5 803.0,100.0 C804.0,92.9 805.0,85.0 806.0,85.0 C807.0,85.0 808.0,96.7 809.0,105.0 C810.0,113.3 811.0,138.0 812.0,138.0 C813.0,138.0 814.0,115.7 815.0,108.0 C816.5,96.5 818.0,80.0 819.5,80.0 C820.7,80.0 821.8,106.1 823.0,125.0 C823.8,138.5 824.7,160.6 825.5,180.0 C826.3,199.4 827.2,242.0 828.0,242.0 C829.3,242.0 830.7,196.2 832.0,180.0 C833.3,163.8 834.7,148.1 836.0,140.0 C837.0,134.0 838.0,127.0 839.0,127.0 C839.7,127.0 840.3,186.0 841.0,186.0 C842.3,186.0 843.7,158.6 845.0,150.0 C846.7,139.3 848.3,129.0 850.0,125.0 C851.7,121.0 853.3,118.1 855.0,117.0 C856.7,115.9 858.3,115.0 860.0,115.0 C861.3,115.0 862.7,128.2 864.0,140.0 C865.3,151.8 866.7,180.0 868.0,200.0 C869.3,220.0 870.7,244.0 872.0,260.0 C873.7,280.0 875.3,310.0 877.0,310.0 C878.0,310.0 879.0,278.0 880.0,260.0 C880.9,244.4 881.7,209.0 882.6,209.0 C883.4,209.0 884.2,236.1 885.0,250.0 C886.2,270.3 887.3,312.0 888.5,312.0 C889.7,312.0 890.8,285.0 892.0,270.0 C893.3,252.9 894.7,222.9 896.0,215.0 C897.3,207.1 898.7,200.0 900.0,200.0 C901.3,200.0 902.7,225.9 904.0,240.0 C905.3,254.1 906.7,273.7 908.0,285.0 C908.8,292.1 909.7,302.0 910.5,302.0 C911.7,302.0 912.8,265.3 914.0,250.0 C915.3,232.5 916.7,203.0 918.0,203.0 C919.3,203.0 920.7,220.8 922.0,230.0 C923.7,241.5 925.3,253.3 927.0,265.0 C928.7,276.7 930.3,290.3 932.0,300.0 C933.6,309.3 935.2,324.0 936.8,324.0 C937.9,324.0 938.9,301.7 940.0,290.0 C941.3,275.4 942.7,245.0 944.0,245.0 C945.3,245.0 946.7,256.5 948.0,265.0 C949.3,273.5 950.7,288.3 952.0,300.0 C953.3,311.7 954.7,326.9 956.0,335.0 C957.4,343.7 958.9,355.0 960.3,355.0 C961.5,355.0 962.8,323.5 964.0,310.0 C965.3,295.4 966.7,280.7 968.0,270.0 C969.8,255.3 971.7,243.6 973.5,233.0 C975.7,220.5 977.8,200.0 980.0,200.0 C983.0,200.0 986.0,220.0 989.0,220.0 C990.7,220.0 992.3,188.5 994.0,170.0 C995.4,154.5 996.8,117.6 998.2,117.6 C999.8,117.6 1001.4,138.6 1003.0,150.0 C1004.5,161.0 1006.1,173.7 1007.6,185.0 C1008.8,193.8 1010.0,210.6 1011.2,210.6 C1012.8,210.6 1014.4,165.9 1016.0,150.0 C1017.9,130.8 1019.9,102.4 1021.8,102.4 C1022.9,102.4 1023.9,106.8 1025.0,110.0 C1025.9,112.6 1026.7,114.4 1027.6,121.0 C1028.0,124.1 1028.4,168.0 1028.8,168.0 C1029.5,168.0 1030.3,147.5 1031.0,140.0 C1031.8,131.5 1032.7,118.8 1033.5,118.8 C1035.5,118.8 1037.4,127.5 1039.4,135.3 C1040.6,140.1 1041.8,149.6 1043.0,160.0 C1044.2,170.1 1045.3,201.0 1046.5,201.0 C1048.0,201.0 1049.5,144.7 1051.0,144.7 C1053.0,144.7 1055.0,191.8 1057.0,191.8 C1059.0,191.8 1061.0,121.2 1063.0,121.2 C1064.6,121.2 1066.2,133.1 1067.8,140.0 C1069.2,146.0 1070.6,160.0 1072.0,160.0 C1073.2,160.0 1074.3,148.2 1075.5,148.2 C1076.8,148.2 1078.0,205.6 1079.3,205.6 C1081.2,205.6 1083.1,154.0 1085.0,154.0 C1087.6,154.0 1090.1,192.2 1092.7,192.2 C1094.6,192.2 1096.5,177.0 1098.4,177.0 C1099.3,177.0 1100.1,184.5 1101.0,190.0 C1102.3,198.5 1103.7,224.7 1105.0,224.7 C1106.6,224.7 1108.3,165.4 1109.9,165.4 C1111.3,165.4 1112.6,188.7 1114.0,200.0 C1115.5,212.4 1117.0,236.2 1118.5,236.2 C1120.0,236.2 1121.5,205.6 1123.0,203.7 C1125.7,200.2 1128.3,201.0 1131.0,198.0 C1133.5,195.1 1136.1,177.0 1138.6,177.0 C1139.9,177.0 1141.1,196.0 1142.4,196.0 C1144.9,196.0 1147.5,177.0 1150.0,177.0 C1150.7,177.0 1151.3,196.0 1152.0,196.0 C1153.9,196.0 1155.8,177.0 1157.7,177.0 C1159.0,177.0 1160.2,196.0 1161.5,196.0 C1162.8,196.0 1164.0,175.0 1165.3,175.0 C1166.5,175.0 1167.8,198.0 1169.0,198.0 C1171.0,198.0 1173.0,175.0 1175.0,175.0 C1176.2,175.0 1177.5,190.0 1178.7,190.0 C1179.5,190.0 1180.2,188.7 1181.0,188.0" fill="none" stroke="#e35c2c" stroke-width="2.3" stroke-linejoin="round" stroke-linecap="round"/>
<path d="M36.5,15.0 L138,15.0 C142,15.2 145,16.5 148,18" fill="none" stroke="#8a4a3a" stroke-width="2.4" stroke-linecap="round" opacity="0.85"/>
<g stroke="#505050" stroke-width="1.8" fill="none"><path d="M36.5,11 V649.4 H1181.5"/><path d="M30,649.4 H36.5"/><path d="M30,585.5 H36.5"/><path d="M30,521.7 H36.5"/><path d="M30,457.8 H36.5"/><path d="M30,394.0 H36.5"/><path d="M30,330.1 H36.5"/><path d="M30,266.2 H36.5"/><path d="M30,202.4 H36.5"/><path d="M30,138.5 H36.5"/><path d="M30,74.7 H36.5"/><path d="M30,10.8 H36.5"/><path d="M36.5,649.4 V656"/><path d="M195.5,649.4 V656"/><path d="M354.4,649.4 V656"/><path d="M513.4,649.4 V656"/><path d="M672.3,649.4 V656"/><path d="M831.3,649.4 V656"/><path d="M990.3,649.4 V656"/><path d="M1149.2,649.4 V656"/><path d="M1181.0,649.4 V656"/></g>
<text x="29.5" y="657.6" font-size="23.5" text-anchor="end" stroke="#1a1a1a" stroke-width="0.35" transform="translate(29.5,0) scale(0.815,1) translate(-29.5,0)">0</text><text x="29.5" y="593.7" font-size="23.5" text-anchor="end" stroke="#1a1a1a" stroke-width="0.35" transform="translate(29.5,0) scale(0.815,1) translate(-29.5,0)">10</text><text x="29.5" y="529.9" font-size="23.5" text-anchor="end" stroke="#1a1a1a" stroke-width="0.35" transform="translate(29.5,0) scale(0.815,1) translate(-29.5,0)">20</text><text x="29.5" y="466.0" font-size="23.5" text-anchor="end" stroke="#1a1a1a" stroke-width="0.35" transform="translate(29.5,0) scale(0.815,1) translate(-29.5,0)">30</text><text x="29.5" y="402.2" font-size="23.5" text-anchor="end" stroke="#1a1a1a" stroke-width="0.35" transform="translate(29.5,0) scale(0.815,1) translate(-29.5,0)">40</text><text x="29.5" y="338.3" font-size="23.5" text-anchor="end" stroke="#1a1a1a" stroke-width="0.35" transform="translate(29.5,0) scale(0.815,1) translate(-29.5,0)">50</text><text x="29.5" y="274.4" font-size="23.5" text-anchor="end" stroke="#1a1a1a" stroke-width="0.35" transform="translate(29.5,0) scale(0.815,1) translate(-29.5,0)">60</text><text x="29.5" y="210.6" font-size="23.5" text-anchor="end" stroke="#1a1a1a" stroke-width="0.35" transform="translate(29.5,0) scale(0.815,1) translate(-29.5,0)">70</text><text x="29.5" y="146.7" font-size="23.5" text-anchor="end" stroke="#1a1a1a" stroke-width="0.35" transform="translate(29.5,0) scale(0.815,1) translate(-29.5,0)">80</text><text x="29.5" y="82.9" font-size="23.5" text-anchor="end" stroke="#1a1a1a" stroke-width="0.35" transform="translate(29.5,0) scale(0.815,1) translate(-29.5,0)">90</text><text x="29.5" y="19.0" font-size="23.5" text-anchor="end" stroke="#1a1a1a" stroke-width="0.35" transform="translate(29.5,0) scale(0.815,1) translate(-29.5,0)">00</text><path d="M4.4,19 V4 L2.2,6.4" stroke="#1a1a1a" stroke-width="2" fill="none"/><text x="36.5" y="675.6" font-size="23" text-anchor="middle" stroke="#1a1a1a" stroke-width="0.35" transform="translate(36.5,0) scale(0.88,1) translate(-36.5,0)">4000</text><text x="195.5" y="675.6" font-size="23" text-anchor="middle" stroke="#1a1a1a" stroke-width="0.35" transform="translate(195.5,0) scale(0.88,1) translate(-195.5,0)">3500</text><text x="354.4" y="675.6" font-size="23" text-anchor="middle" stroke="#1a1a1a" stroke-width="0.35" transform="translate(354.4,0) scale(0.88,1) translate(-354.4,0)">3000</text><text x="513.4" y="675.6" font-size="23" text-anchor="middle" stroke="#1a1a1a" stroke-width="0.35" transform="translate(513.4,0) scale(0.88,1) translate(-513.4,0)">2500</text><text x="672.3" y="675.6" font-size="23" text-anchor="middle" stroke="#1a1a1a" stroke-width="0.35" transform="translate(672.3,0) scale(0.88,1) translate(-672.3,0)">2000</text><text x="831.3" y="675.6" font-size="23" text-anchor="middle" stroke="#1a1a1a" stroke-width="0.35" transform="translate(831.3,0) scale(0.88,1) translate(-831.3,0)">1500</text><text x="990.3" y="675.6" font-size="23" text-anchor="middle" stroke="#1a1a1a" stroke-width="0.35" transform="translate(990.3,0) scale(0.88,1) translate(-990.3,0)">1000</text><text x="1148.2" y="675.6" font-size="23" text-anchor="middle" stroke="#1a1a1a" stroke-width="0.35" transform="translate(1148.2,0) scale(0.87,1) translate(-1148.2,0)">500</text><text x="1181.6" y="675.6" font-size="23" text-anchor="middle" stroke="#1a1a1a" stroke-width="0.35" transform="translate(1181.6,0) scale(0.87,1) translate(-1181.6,0)">400</text><line x1="50.5" y1="356.7" x2="186" y2="356.7" stroke="#dc1e28" stroke-width="4"/><text x="212.5" y="362.2" font-size="24.3" stroke="#1a1a1a" stroke-width="0.35" transform="translate(212.5,0) scale(0.91,1) translate(-212.5,0)">Quercetin</text><line x1="50.5" y1="394.8" x2="186" y2="394.8" stroke="#1c1cc8" stroke-width="4"/><text x="212.5" y="400.6" font-size="24.3" stroke="#1a1a1a" stroke-width="0.35" transform="translate(212.5,0) scale(0.91,1) translate(-212.5,0)">Precirol-</text><line x1="50.5" y1="432.7" x2="186" y2="432.7" stroke="#e832e8" stroke-width="4"/><text x="212.5" y="438.6" font-size="24.3" stroke="#1a1a1a" stroke-width="0.35" transform="translate(212.5,0) scale(0.915,1) translate(-212.5,0)">Capryol</text><line x1="50.5" y1="470.8" x2="186" y2="470.8" stroke="#267c32" stroke-width="4"/><text x="212.5" y="476.6" font-size="24.3" stroke="#1a1a1a" stroke-width="0.35" transform="translate(212.5,0) scale(0.915,1) translate(-212.5,0)">Tween 80</text><line x1="50.5" y1="508.8" x2="186" y2="508.8" stroke="#f0aa32" stroke-width="4"/><text x="212.5" y="515.2" font-size="24.3" stroke="#1a1a1a" stroke-width="0.35" transform="translate(212.5,0) scale(0.905,1) translate(-212.5,0)">Span 80</text><line x1="50.5" y1="547.5" x2="186" y2="547.5" stroke="#7c0c7c" stroke-width="4"/><text x="212.5" y="553" font-size="24.3" stroke="#1a1a1a" stroke-width="0.35" transform="translate(212.5,0) scale(0.885,1) translate(-212.5,0)">ph mix_1</text><line x1="53.5" y1="578.7" x2="186" y2="578.7" stroke="#6e7b8a" stroke-width="4"/><text x="210.2" y="589" font-size="20.2" stroke="#1a1a1a" stroke-width="0.35" transform="translate(210.2,0) scale(0.985,1) translate(-210.2,0)">Placebo NLCs</text><line x1="53.5" y1="611.5" x2="186" y2="611.5" stroke="#e35c2c" stroke-width="4"/><text x="210.2" y="618.8" font-size="20.2" stroke="#1a1a1a" stroke-width="0.35" transform="translate(210.2,0) scale(0.985,1) translate(-210.2,0)">QUE-NLCs</text></svg></body></html>
